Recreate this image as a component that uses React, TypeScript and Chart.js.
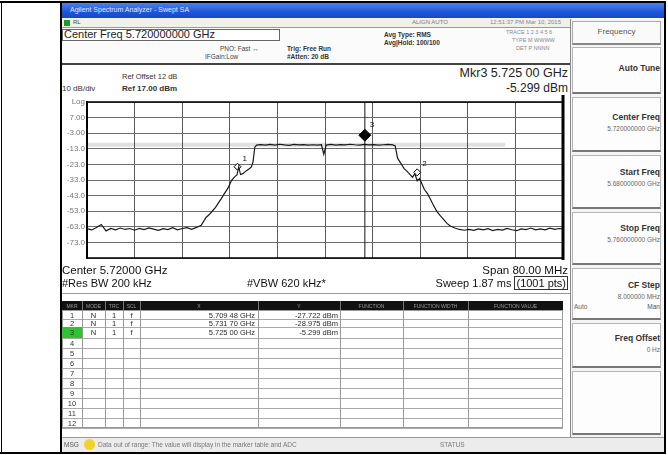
import React, { useEffect, useRef } from "react";
import { Chart, registerables } from "chart.js";
Chart.register(...registerables);

// ---- data ----
const startFreqMHz = 5680;
const stopFreqMHz = 5760;
const freqDivMHz = 8;
const refLevelDbm = 17;
const dbPerDiv = 10;
const bottomLevelDbm = -83;

const traceFreqMHz = [
  5680.0, 5680.8, 5681.6, 5682.4, 5683.2, 5684.0, 5684.8, 5685.6, 5686.4, 5687.2,
  5688.0, 5688.8, 5689.6, 5690.4, 5691.2, 5692.0, 5692.8, 5693.6, 5694.4, 5695.2,
  5696.0, 5696.8, 5697.6, 5698.4, 5699.2,
  5700.0, 5700.6, 5701.0, 5701.6, 5702.2, 5702.6, 5703.0, 5703.4, 5703.8, 5704.3,
  5704.8, 5705.2, 5705.5, 5705.8, 5706.2, 5706.8, 5707.2, 5707.6, 5707.9, 5708.2, 5708.5,
  5709.2, 5710.0, 5710.8, 5711.6, 5712.4, 5713.2, 5714.0, 5714.8, 5715.6, 5716.4,
  5717.2, 5718.0, 5718.8, 5719.4, 5719.8, 5720.2, 5721.0, 5721.8, 5722.6, 5723.4,
  5724.2, 5725.0, 5725.8, 5726.6, 5727.4, 5728.2, 5729.0, 5729.8, 5730.6, 5731.4, 5731.8,
  5732.2, 5732.7, 5733.3, 5733.8, 5734.3, 5734.7, 5735.1, 5735.5, 5735.9, 5736.3,
  5736.7, 5737.2, 5737.7, 5738.2, 5738.8, 5739.4, 5740.0, 5740.5, 5741.0, 5741.8,
  5742.6, 5743.4,
  5744.2, 5745.0, 5745.8, 5746.6, 5747.4, 5748.2, 5749.0, 5749.8, 5750.6, 5751.4,
  5752.2, 5753.0, 5753.8, 5754.6, 5755.4, 5756.2, 5757.0, 5757.8, 5758.6, 5759.4, 5760.0,
];
const traceLevelDbm = [
  -64.2, -65.0, -63.4, -61.5, -65.6, -64.0, -64.9, -63.8, -64.7, -64.1,
  -65.2, -64.0, -64.8, -63.7, -64.5, -65.3, -64.2, -64.8, -63.6, -65.0,
  -64.1, -63.5, -64.6, -63.4, -62.0,
  -57.0, -55.0, -53.2, -50.5, -47.0, -44.8, -42.2, -40.0, -37.4, -33.2,
  -31.0, -29.8, -24.5, -29.5, -28.9, -27.0, -26.0, -24.8, -21.5, -12.0, -10.6,
  -10.3, -10.7, -10.2, -10.6, -10.1, -10.5, -10.8, -10.2, -10.5, -10.3,
  -10.7, -10.4, -10.6, -10.4, -16.5, -10.6, -10.2, -10.6, -10.3, -10.5,
  -10.1, -10.4, -10.6, -10.2, -10.5, -10.3, -10.7, -10.4, -10.2, -10.5, -11.2,
  -19.0, -22.0, -25.7, -27.5, -29.5, -31.2, -29.0, -33.5, -32.0, -35.5,
  -39.1, -41.5, -45.2, -49.0, -53.1, -56.0, -58.6, -60.8, -62.3, -63.8,
  -64.7, -65.2,
  -64.6, -65.3, -64.4, -65.0, -64.2, -65.4, -64.6, -65.1, -64.0, -64.9,
  -65.5, -64.3, -64.8, -63.8, -65.0, -64.4, -64.9, -63.9, -64.6, -64.1, -64.5,
];

const markerNames = ["1", "2", "3"];
const markerFreqMHz = [5705.3, 5735.5, 5726.7];
const markerLevelDbm = [-24.5, -28.1, -4.3];

const displayLineDbm = -10.4;
const displayLineStopMHz = 5750.3;

const tableRows = ["1", "2", "3", "4", "5", "6", "7", "8", "9", "10", "11", "12"];
const tableMode = ["N", "N", "N"];
const tableTrace = ["1", "1", "1"];
const tableScale = ["f", "f", "f"];
const tableX = ["5.709 48 GHz", "5.731 70 GHz", "5.725 00 GHz"];
const tableY = ["-27.722 dBm", "-28.975 dBm", "-5.299 dBm"];
const tableHeaders = ["MKR", "MODE", "TRC", "SCL", "X", "Y", "FUNCTION", "FUNCTION WIDTH", "FUNCTION VALUE"];

const FONT = "'Liberation Sans', Arial, sans-serif";

type TP = {
  x: number; y: number; s?: number; right?: boolean; center?: number;
  bold?: boolean; color?: string; children: React.ReactNode; style?: React.CSSProperties;
};
const T = ({ x, y, s = 8, right, center, bold, color = "#2a2a2a", children, style }: TP) => {
  const st: React.CSSProperties = {
    position: "absolute",
    top: y - s * 0.6,
    lineHeight: `${s * 1.2}px`,
    fontSize: s,
    fontFamily: FONT,
    fontWeight: bold ? 700 : 400,
    color,
    whiteSpace: "nowrap",
    ...style,
  };
  if (center !== undefined) {
    st.left = x;
    st.width = center;
    st.textAlign = "center";
  } else if (right) st.right = 668 - x;
  else st.left = x;
  return <div style={st}>{children}</div>;
};

const Box = ({ x, y, w, h, style }: { x: number; y: number; w: number; h: number; style?: React.CSSProperties }) => (
  <div style={{ position: "absolute", left: x, top: y, width: w, height: h, boxSizing: "border-box", ...style }} />
);

function SpectrumChart() {
  const ref = useRef<HTMLCanvasElement>(null);
  useEffect(() => {
    if (!ref.current) return;
    const frame = {
      id: "frame",
      afterDraw(c: any) {
        const { ctx, chartArea: a } = c;
        ctx.save();
        ctx.strokeStyle = "#000";
        ctx.lineWidth = 1.5;
        ctx.beginPath();
        ctx.moveTo(a.left, a.top);
        ctx.lineTo(a.right, a.top);
        ctx.moveTo(a.left, a.bottom);
        ctx.lineTo(a.right, a.bottom);
        ctx.stroke();
        ctx.lineWidth = 3;
        ctx.beginPath();
        ctx.moveTo(a.right, a.top - 8);
        ctx.lineTo(a.right, a.bottom + 2);
        ctx.stroke();
        // marker labels
        const meta = c.getDatasetMeta(3);
        ctx.fillStyle = "#111";
        ctx.font = `8px ${FONT}`;
        meta.data.forEach((el: any, i: number) => {
          const dy = i === 2 ? -8 : -6;
          ctx.fillText(markerNames[i], el.x + 5, el.y + dy);
        });
        ctx.restore();
      },
    };
    const chart = new Chart(ref.current, {
      type: "line",
      data: {
        datasets: [
          {
            data: [{ x: startFreqMHz, y: displayLineDbm }, { x: displayLineStopMHz, y: displayLineDbm }],
            borderColor: "rgba(0,0,0,0.12)",
            borderWidth: 4,
            pointRadius: 0,
          },
          {
            data: [{ x: markerFreqMHz[2], y: bottomLevelDbm }, { x: markerFreqMHz[2], y: refLevelDbm }],
            borderColor: "#111",
            borderWidth: 1,
            pointRadius: 0,
          },
          {
            data: traceFreqMHz.map((f, i) => ({ x: f, y: traceLevelDbm[i] })),
            borderColor: "#1a1a1a",
            borderWidth: 1.2,
            pointRadius: 0,
            tension: 0,
          },
          {
            data: markerFreqMHz.map((f, i) => ({ x: f, y: markerLevelDbm[i] })),
            showLine: false,
            pointStyle: "rectRot",
            pointRadius: [3.5, 3.5, 6],
            pointBackgroundColor: ["#fff", "#fff", "#000"],
            pointBorderColor: "#000",
            pointBorderWidth: 1,
          },
        ] as any,
      },
      options: {
        animation: false,
        responsive: false,
        devicePixelRatio: 1,
        layout: { padding: { top: 3, right: 3, bottom: 3, left: 0 } },
        plugins: { legend: { display: false }, tooltip: { enabled: false } },
        scales: {
          x: {
            type: "linear",
            min: startFreqMHz,
            max: stopFreqMHz,
            ticks: { display: false, stepSize: freqDivMHz },
            grid: { color: "#5a5a5a", lineWidth: 1, drawTicks: false },
            border: { display: false },
            afterFit(s: any) { s.height = 0; },
          },
          y: {
            min: bottomLevelDbm,
            max: refLevelDbm,
            ticks: {
              stepSize: dbPerDiv,
              color: "#777",
              font: { size: 8, family: FONT },
              padding: 2,
              callback: (v: any) => {
                const n = Number(v);
                if (Math.abs(n - refLevelDbm) < 0.01) return "Log";
                if (n < bottomLevelDbm + 0.5) return "";
                return n.toPrecision(3);
              },
            },
            grid: { color: "#6e6e6e", lineWidth: 1, drawTicks: false },
            border: { color: "#000", width: 2 },
            afterFit(s: any) { s.width = 25; },
          },
        },
      },
      plugins: [frame],
    } as any);
    return () => chart.destroy();
  }, []);
  return (
    <canvas
      ref={ref}
      width={508}
      height={170}
      style={{ position: "absolute", left: 62, top: 95, width: 508, height: 170 }}
    />
  );
}

const colX = [62, 82, 105, 123, 140, 258, 340, 403, 468, 563];
const rowH = [8, 8, 11, 10, 10, 10, 10, 10, 10, 10, 10, 10];

function MarkerTable() {
  const tops: number[] = [];
  let acc = 311;
  rowH.forEach((h) => { tops.push(acc); acc += h; });
  return (
    <>
      <Box x={62} y={301} w={501} h={9} style={{ background: "#111" }} />
      {tableHeaders.map((h, i) => (
        <T key={"h" + i} x={colX[i]} y={305.5} s={5} center={colX[i + 1] - colX[i]} color="#999">{h}</T>
      ))}
      {colX.slice(1, -1).map((x, i) => (
        <Box key={"hc" + i} x={x} y={301} w={1} h={9} style={{ background: "#777" }} />
      ))}
      <Box x={62} y={310} w={501} h={acc - 310} style={{ background: "#fff", border: "1px solid #999" }} />
      {tops.map((t, i) => (
        <Box key={"rl" + i} x={62} y={t + rowH[i]} w={501} h={1} style={{ background: "#aaa" }} />
      ))}
      {colX.slice(1, -1).map((x, i) => (
        <Box key={"cl" + i} x={x} y={310} w={1} h={acc - 310} style={{ background: "#999" }} />
      ))}
      <Box x={62} y={tops[2]} w={20} h={rowH[2]} style={{ background: "#2ec42e" }} />
      {tableRows.map((r, i) => (
        <T key={"r" + i} x={62} y={tops[i] + rowH[i] / 2} s={7.5} center={20} color="#333">{r}</T>
      ))}
      {tableX.map((v, i) => (
        <React.Fragment key={"v" + i}>
          <T x={82} y={tops[i] + rowH[i] / 2} s={7.5} center={23}>{tableMode[i]}</T>
          <T x={105} y={tops[i] + rowH[i] / 2} s={7.5} center={18}>{tableTrace[i]}</T>
          <T x={123} y={tops[i] + rowH[i] / 2} s={7.5} center={17}>{tableScale[i]}</T>
          <T x={255} y={tops[i] + rowH[i] / 2} s={7.5} right>{v}</T>
          <T x={338} y={tops[i] + rowH[i] / 2} s={7.5} right>{tableY[i]}</T>
        </React.Fragment>
      ))}
    </>
  );
}

function SoftKeys() {
  const keys = [
    { y: 47, h: 47, t: "Auto Tune", ty: 68 },
    { y: 97, h: 55, t: "Center Freq", ty: 117, sub: "5.720000000 GHz" },
    { y: 155, h: 54, t: "Start Freq", ty: 172, sub: "5.680000000 GHz" },
    { y: 212, h: 53, t: "Stop Freq", ty: 228, sub: "5.760000000 GHz" },
    { y: 268, h: 52, t: "CF Step", ty: 285, sub: "8.000000 MHz" },
    { y: 323, h: 45, t: "Freq Offset", ty: 338, sub: "0 Hz" },
    { y: 371, h: 64, t: "", ty: 0 },
  ];
  return (
    <>
      <Box x={570} y={19} w={93} h={420} style={{ background: "#f4f4f4", borderLeft: "1px solid #888" }} />
      <Box x={572} y={21} w={89} h={24} style={{ background: "#fafafa", border: "1px solid #aaa", borderBottom: "2px solid #888" }} />
      <T x={572} y={32} s={8} center={89} color="#555">Frequency</T>
      {keys.map((k, i) => (
        <React.Fragment key={i}>
          <Box x={572} y={k.y} w={89} h={k.h} style={{ background: "#fdfdfd", border: "1px solid #b5b5b5", borderBottom: "2px solid #777" }} />
          {k.t && <T x={660} y={k.ty} s={8.5} right bold color="#333">{k.t}</T>}
          {k.sub && <T x={660} y={k.ty + 12} s={6.5} right color="#666">{k.sub}</T>}
        </React.Fragment>
      ))}
      <T x={574} y={307} s={6.5} color="#666">Auto</T>
      <T x={660} y={307} s={6.5} right color="#555">Man</T>
    </>
  );
}

export default function App() {
  return (
    <div style={{ position: "absolute", left: 0, top: 0, width: 668, height: 455, background: "#fff", overflow: "hidden", fontFamily: FONT }}>
      {/* outer table borders */}
      <Box x={0} y={1} w={666} h={2} style={{ background: "#000" }} />
      <Box x={1} y={1} w={1} h={453} style={{ background: "#000" }} />
      <Box x={60} y={1} w={2} h={453} style={{ background: "#000" }} />
      <Box x={664} y={1} w={2} h={453} style={{ background: "#000" }} />
      <Box x={0} y={452} w={666} h={2} style={{ background: "#000" }} />

      {/* title bar */}
      <Box x={62} y={3} w={602} h={15} style={{ background: "linear-gradient(#4a82f0, #1f55d8 60%, #1848c4)" }} />
      <T x={70} y={10} s={7} color="#dfe8ff">Agilent Spectrum Analyzer - Swept SA</T>
      {/* toolbar row */}
      <Box x={62} y={18} w={508} h={10} style={{ background: "#f1f1ea", borderBottom: "1px solid #999" }} />
      <Box x={64} y={20} w={6} h={6} style={{ background: "#1c9a2a" }} />
      <T x={73} y={23} s={6} color="#444">RL</T>
      <T x={412} y={23} s={6} color="#777">ALIGN AUTO</T>
      <T x={490} y={23} s={6} color="#888">12:51:37 PM Mar 10, 2015</T>

      {/* header */}
      <Box x={62} y={28} w={508} h={36} style={{ background: "#fbfbfb" }} />
      <Box x={62} y={29} w={218} h={12} style={{ border: "1px solid #666", background: "#fff" }} />
      <T x={64} y={35} s={11} color="#222">Center Freq 5.720000000 GHz</T>
      <T x={220} y={49} s={6.5} color="#444">PNO: Fast ↔</T>
      <T x={205} y={57} s={6.5} color="#444">IFGain:Low</T>
      <T x={287} y={49} s={6.5} color="#333" bold>Trig: Free Run</T>
      <T x={287} y={57} s={6.5} color="#333" bold>#Atten: 20 dB</T>
      <T x={384} y={35} s={6.5} color="#333" bold>Avg Type: RMS</T>
      <T x={384} y={43} s={6.5} color="#333" bold>Avg|Hold: 100/100</T>
      <T x={506} y={32} s={5.5} color="#888">TRACE 1 2 3 4 5 6</T>
      <T x={512} y={40} s={5.5} color="#888">TYPE M WWWW</T>
      <T x={516} y={48} s={5.5} color="#888">DET P NNNN</T>
      <Box x={62} y={63} w={508} h={2} style={{ background: "#444" }} />

      {/* chart panel texts */}
      <T x={122} y={76} s={7.5} color="#333">Ref Offset 12 dB</T>
      <T x={62} y={89} s={8} color="#333">10 dB/div</T>
      <T x={122} y={89} s={8} color="#333" bold>Ref 17.00 dBm</T>
      <T x={568} y={73} s={12.5} right color="#222">Mkr3 5.725 00 GHz</T>
      <T x={568} y={88} s={12} right color="#222">-5.299 dBm</T>

      <SpectrumChart />

      {/* bottom info */}
      <T x={62} y={271} s={11.5} color="#111">Center 5.72000 GHz</T>
      <T x={568} y={271} s={11.5} right color="#111">Span 80.00 MHz</T>
      <T x={62} y={284} s={11} color="#111">#Res BW 200 kHz</T>
      <T x={247} y={284} s={11} color="#111">#VBW 620 kHz*</T>
      <T x={568} y={284} s={11} right color="#111">
        Sweep  1.87 ms <span style={{ border: "1px solid #333", padding: "0 1px" }}>(1001 pts)</span>
      </T>
      <Box x={62} y={293} w={508} h={1} style={{ background: "#999" }} />

      <MarkerTable />

      <SoftKeys />

      {/* status bar */}
      <Box x={62} y={437} w={602} h={15} style={{ background: "#ececec", borderTop: "1px solid #999" }} />
      <T x={64} y={445} s={6.5} color="#555">MSG</T>
      <div style={{ position: "absolute", left: 84, top: 439, width: 11, height: 11, borderRadius: 6, background: "#f2d22c" }} />
      <T x={98} y={445} s={6.5} color="#777">Data out of range: The value will display in the marker table and ADC</T>
      <T x={440} y={445} s={6.5} color="#777">STATUS</T>
    </div>
  );
}
